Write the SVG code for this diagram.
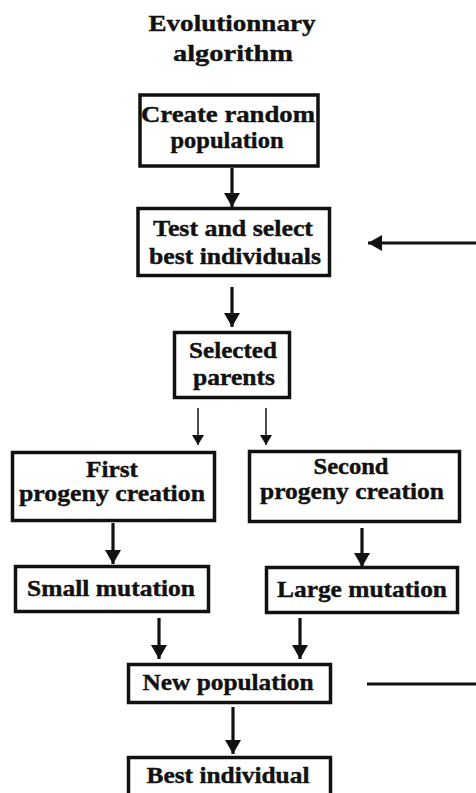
<svg xmlns="http://www.w3.org/2000/svg" width="476" height="793" viewBox="0 0 476 793">
<style>
text{font-family:"Liberation Serif","Times New Roman",serif;font-weight:bold;font-size:24px;fill:#111;stroke:#111;stroke-width:0.4;text-anchor:middle}
.box{fill:#fff;stroke:#111;stroke-width:3.5}
.thick{stroke:#111;stroke-width:3.2;fill:none}
.thin{stroke:#111;stroke-width:1.5;fill:none}
</style>
<defs>
<marker id="ah" markerUnits="userSpaceOnUse" markerWidth="16" markerHeight="16" viewBox="0 0 14 16" refX="14" refY="8" orient="auto"><path d="M0,0L14,8L0,16Z" fill="#111"/></marker>
<marker id="ahs" markerUnits="userSpaceOnUse" markerWidth="12" markerHeight="12" viewBox="0 0 10 12" refX="10" refY="6" orient="auto"><path d="M0,0L10,6L0,12Z" fill="#111"/></marker>
</defs>
<g id="title">
<text x="232" y="31" textLength="167" lengthAdjust="spacingAndGlyphs">Evolutionnary</text>
<text x="233" y="61" textLength="120" lengthAdjust="spacingAndGlyphs">algorithm</text>
</g>
<g id="connectors">
<line class="thick" x1="232" y1="168" x2="232" y2="207" marker-end="url(#ah)"/>
<line class="thick" x1="476" y1="243" x2="368" y2="243" marker-end="url(#ah)"/>
<line class="thick" x1="232" y1="287" x2="232" y2="327" marker-end="url(#ah)"/>
<line class="thin" x1="198" y1="408" x2="198" y2="445" marker-end="url(#ahs)"/>
<line class="thin" x1="266" y1="408" x2="266" y2="445" marker-end="url(#ahs)"/>
<line class="thick" x1="113" y1="523" x2="113" y2="564" marker-end="url(#ah)"/>
<line class="thick" x1="362" y1="528" x2="362" y2="567" marker-end="url(#ah)"/>
<line class="thick" x1="159" y1="618" x2="159" y2="659" marker-end="url(#ah)"/>
<line class="thick" x1="300" y1="618" x2="300" y2="659" marker-end="url(#ah)"/>
<line class="thick" x1="367" y1="684" x2="476" y2="684"/>
<line class="thick" x1="233" y1="707" x2="233" y2="754" marker-end="url(#ah)"/>
</g>
<g id="create">
<rect class="box" x="140" y="95" width="178" height="71"/>
<text x="228" y="122" textLength="174" lengthAdjust="spacingAndGlyphs">Create random</text>
<text x="227" y="148" textLength="113" lengthAdjust="spacingAndGlyphs">population</text>
</g>
<g id="test">
<rect class="box" x="138" y="208.5" width="191.5" height="67"/>
<text x="233" y="236" textLength="160" lengthAdjust="spacingAndGlyphs">Test and select</text>
<text x="235" y="264" textLength="172" lengthAdjust="spacingAndGlyphs">best individuals</text>
</g>
<g id="selected">
<rect class="box" x="174.5" y="332.5" width="115" height="65"/>
<text x="233" y="358" textLength="88" lengthAdjust="spacingAndGlyphs">Selected</text>
<text x="234" y="385" textLength="82" lengthAdjust="spacingAndGlyphs">parents</text>
</g>
<g id="first">
<rect class="box" x="12.5" y="452.5" width="202" height="68"/>
<text x="112" y="477" textLength="52" lengthAdjust="spacingAndGlyphs">First</text>
<text x="112" y="501" textLength="186" lengthAdjust="spacingAndGlyphs">progeny creation</text>
</g>
<g id="second">
<rect class="box" x="249.5" y="451.5" width="210" height="70"/>
<text x="351" y="474" textLength="75" lengthAdjust="spacingAndGlyphs">Second</text>
<text x="352" y="499" textLength="184" lengthAdjust="spacingAndGlyphs">progeny creation</text>
</g>
<g id="small">
<rect class="box" x="15.5" y="566.5" width="193" height="45"/>
<text x="111" y="596" textLength="168" lengthAdjust="spacingAndGlyphs">Small mutation</text>
</g>
<g id="large">
<rect class="box" x="266.5" y="567.5" width="191" height="45"/>
<text x="362" y="597" textLength="170" lengthAdjust="spacingAndGlyphs">Large mutation</text>
</g>
<g id="newpop">
<rect class="box" x="128.5" y="664.5" width="202" height="38"/>
<text x="228" y="690" textLength="171" lengthAdjust="spacingAndGlyphs">New population</text>
</g>
<g id="best">
<rect class="box" x="128.5" y="757.5" width="202" height="50"/>
<text x="228" y="783" textLength="163" lengthAdjust="spacingAndGlyphs">Best individual</text>
</g>
</svg>
